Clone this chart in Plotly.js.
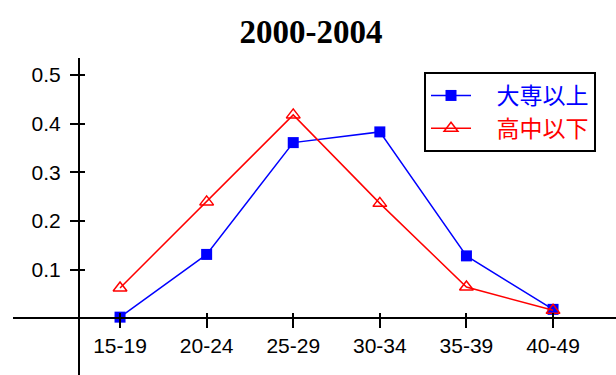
<!DOCTYPE html>
<html>
<head>
<meta charset="utf-8">
<script src="https://cdn.plot.ly/plotly-3.0.1.min.js"></script>
<style>html,body{margin:0;padding:0;background:#fff;}#chart{width:616px;height:375px;}</style>
</head>
<body>
<div id="chart"></div>
<script>
const categories = ['15-19', '20-24', '25-29', '30-34', '35-39', '40-49'];
const collegeAbove = [0.002, 0.131, 0.361, 0.383, 0.128, 0.018];
const highSchoolBelow = [0.062, 0.239, 0.418, 0.236, 0.064, 0.016];
const seriesNames = ['大専以上', '高中以下'];
const yTickVals = [0.1, 0.2, 0.3, 0.4, 0.5];
const yTickText = ['0.1', '0.2', '0.3', '0.4', '0.5'];
const catIndex = categories.map((c, i) => i);

const W = 616, H = 375;
const yAxisX = 79, xAxisY = 318, topY = 58, leftX = 13;
const xRange = [-1.236, 5.727];
const yRange = [-0.117, 0.535];
const pad = '\u00a0\u00a0\u00a0\u00a0';

const traces = [
  {
    x: categories, y: collegeAbove, name: pad + '<span style="color:#0000ff">' + seriesNames[0] + '</span>',
    type: 'scatter', mode: 'lines+markers',
    line: {color: '#0000ff', width: 1.5},
    marker: {symbol: 'square', size: 11, color: '#0000ff'}
  },
  {
    x: categories, y: highSchoolBelow, name: pad + '<span style="color:#ff0000">' + seriesNames[1] + '</span>',
    type: 'scatter', mode: 'lines+markers',
    line: {color: '#ff0000', width: 1.5},
    marker: {symbol: 'triangle-up-open', size: 12, color: '#ff0000', line: {width: 1.5, color: '#ff0000'}}
  },
  {x: [], y: [], xaxis: 'x2', yaxis: 'y2', showlegend: false, hoverinfo: 'skip', type: 'scatter', mode: 'lines'}
];

const tickFont = {family: 'Liberation Sans, Arial, sans-serif', size: 21, color: '#000'};

const layout = {
  width: W, height: H,
  margin: {l: 0, r: 0, t: 0, b: 0},
  paper_bgcolor: '#fff', plot_bgcolor: 'rgba(0,0,0,0)',
  showlegend: true,
  title: {
    text: '<b>2000-2004</b>',
    font: {family: 'Liberation Serif, Times New Roman, serif', size: 33, color: '#000'},
    x: 311 / W, xanchor: 'center', xref: 'paper',
    y: 1 - 31 / H, yanchor: 'middle', yref: 'container'
  },
  xaxis: {
    type: 'category', categoryarray: categories, categoryorder: 'array',
    range: xRange, domain: [leftX / W, 1],
    anchor: 'free', position: (H - xAxisY) / H,
    showline: true, linecolor: '#000', linewidth: 2,
    ticks: 'outside', ticklen: 9, tickwidth: 2, tickcolor: '#000',
    ticklabelstandoff: 0,
    showgrid: false, zeroline: false,
    tickfont: tickFont, fixedrange: true
  },
  yaxis: {
    range: yRange, domain: [0, 1 - topY / H],
    anchor: 'free', position: yAxisX / W,
    showline: true, linecolor: '#000', linewidth: 2,
    tickmode: 'array', tickvals: yTickVals, ticktext: yTickText,
    ticks: 'outside', ticklen: 8, tickwidth: 2, tickcolor: '#000',
    ticklabelstandoff: 5,
    showgrid: false, zeroline: false,
    tickfont: tickFont, fixedrange: true
  },
  xaxis2: {
    type: 'linear', overlaying: 'x', range: xRange, domain: [leftX / W, 1],
    anchor: 'free', position: (H - xAxisY) / H,
    tickmode: 'array', tickvals: catIndex,
    ticks: 'inside', ticklen: 5, tickwidth: 2, tickcolor: '#000',
    showticklabels: false, showline: false, showgrid: false, zeroline: false
  },
  yaxis2: {
    overlaying: 'y', range: yRange, domain: [0, 1 - topY / H],
    anchor: 'free', position: yAxisX / W,
    tickmode: 'array', tickvals: yTickVals,
    ticks: 'inside', ticklen: 5, tickwidth: 2, tickcolor: '#000',
    showticklabels: false, showline: false, showgrid: false, zeroline: false
  },
  legend: {
    x: 424 / W, xanchor: 'left', xref: 'paper',
    y: 1 - 72 / H, yanchor: 'top', yref: 'paper',
    bgcolor: '#fff', bordercolor: '#000', borderwidth: 2,
    font: {family: 'Noto Sans CJK JP, sans-serif', size: 23, color: '#000'},
    itemwidth: 40, tracegroupgap: 0
  }
};

Plotly.newPlot('chart', traces, layout, {displayModeBar: false, staticPlot: true});
</script>
</body>
</html>
